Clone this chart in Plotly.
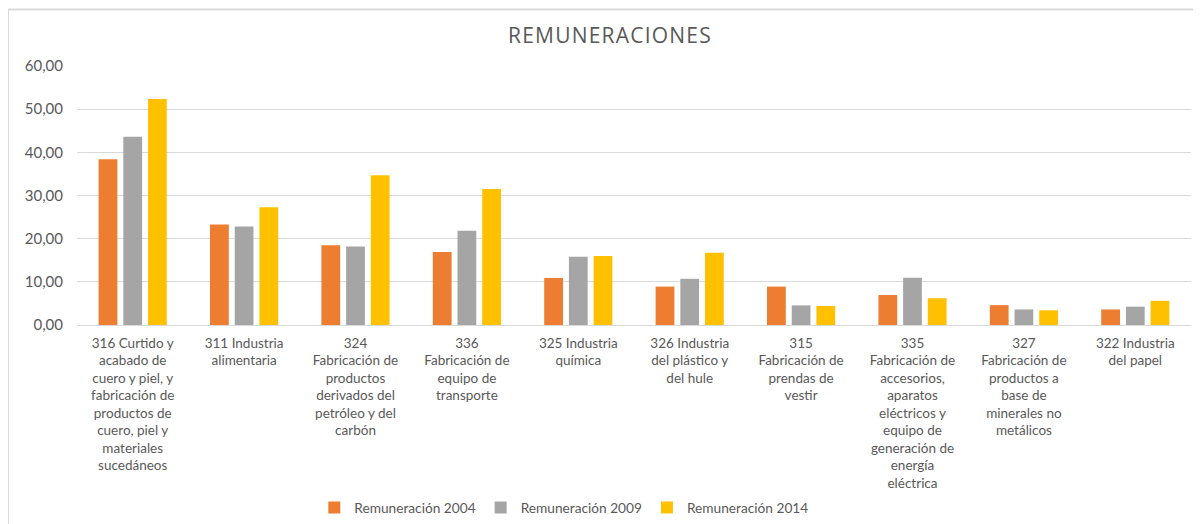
import plotly.graph_objects as go

categories = [
    "316 Curtido y<br>acabado de<br>cuero y piel, y<br>fabricación de<br>productos de<br>cuero, piel y<br>materiales<br>sucedáneos",
    "311 Industria<br>alimentaria",
    "324<br>Fabricación de<br>productos<br>derivados del<br>petróleo y del<br>carbón",
    "336<br>Fabricación de<br>equipo de<br>transporte",
    "325 Industria<br>química",
    "326 Industria<br>del plástico y<br>del hule",
    "315<br>Fabricación de<br>prendas de<br>vestir",
    "335<br>Fabricación de<br>accesorios,<br>aparatos<br>eléctricos y<br>equipo de<br>generación de<br>energía<br>eléctrica",
    "327<br>Fabricación de<br>productos a<br>base de<br>minerales no<br>metálicos",
    "322 Industria<br>del papel",
]

rem_2004 = [38.4, 23.3, 18.45, 16.9, 10.9, 8.9, 8.9, 6.95, 4.6, 3.6]
rem_2009 = [43.6, 22.8, 18.2, 21.85, 15.8, 10.7, 4.55, 10.95, 3.6, 4.25]
rem_2014 = [52.35, 27.3, 34.7, 31.5, 16.0, 16.75, 4.4, 6.2, 3.4, 5.6]

series_names = ["Remuneración 2004", "Remuneración 2009", "Remuneración 2014"]
series_colors = ["#ED7D31", "#A5A5A5", "#FFC000"]

y_ticks = [0, 10, 20, 30, 40, 50, 60]

FONT = "Lato, 'Open Sans', sans-serif"
TXT = "#595959"

fig = go.Figure()
for name, vals, col in zip(series_names, [rem_2004, rem_2009, rem_2014], series_colors):
    fig.add_trace(go.Bar(x=categories, y=vals, name=name, marker=dict(color=col, line=dict(width=0))))

# the page body adds an 8px offset, so the figure is 8px smaller in each direction
fig.update_layout(
    width=1193, height=516,
    paper_bgcolor="white", plot_bgcolor="white",
    margin=dict(l=69, r=10, t=58, b=199, autoexpand=False),
    barmode="group", bargap=0.335, bargroupgap=0.24,
    separators=",.",
    font=dict(family=FONT, color=TXT, size=13.5),
    title=dict(text='<span style="letter-spacing:1.2px">REMUNERACIONES</span>', x=0.5046, xanchor="center",
               y=0.9457, yanchor="middle",
               font=dict(family="'Open Sans', sans-serif", size=21, color=TXT)),
    legend=dict(orientation="h", x=0.437, xanchor="center", y=-0.645, yanchor="top",
                font=dict(family=FONT, size=13.7, color=TXT), itemwidth=30, traceorder="normal"),
    xaxis=dict(tickangle=0, showgrid=False, showline=False, ticks="", ticklabelstandoff=8,
               tickfont=dict(size=13.5, color=TXT)),
    yaxis=dict(range=[0, 60], tickvals=y_ticks, tickformat=".2f", showgrid=True, gridcolor="#D9D9D9",
               gridwidth=1, zeroline=True, zerolinecolor="#D9D9D9", zerolinewidth=1, ticks="",
               showline=False, tickfont=dict(size=15, color=TXT), ticklabelstandoff=13),
    shapes=[
        dict(type="line", xref="paper", yref="paper", x0=-0.062, x1=1.01, y0=1.218, y1=1.218,
             line=dict(color="#D9D9D9", width=2)),
        dict(type="line", xref="paper", yref="paper", x0=-0.062, x1=-0.062, y0=1.218, y1=-0.77,
             line=dict(color="#D9D9D9", width=2)),
    ],
)

fig.write_html("out.html")
